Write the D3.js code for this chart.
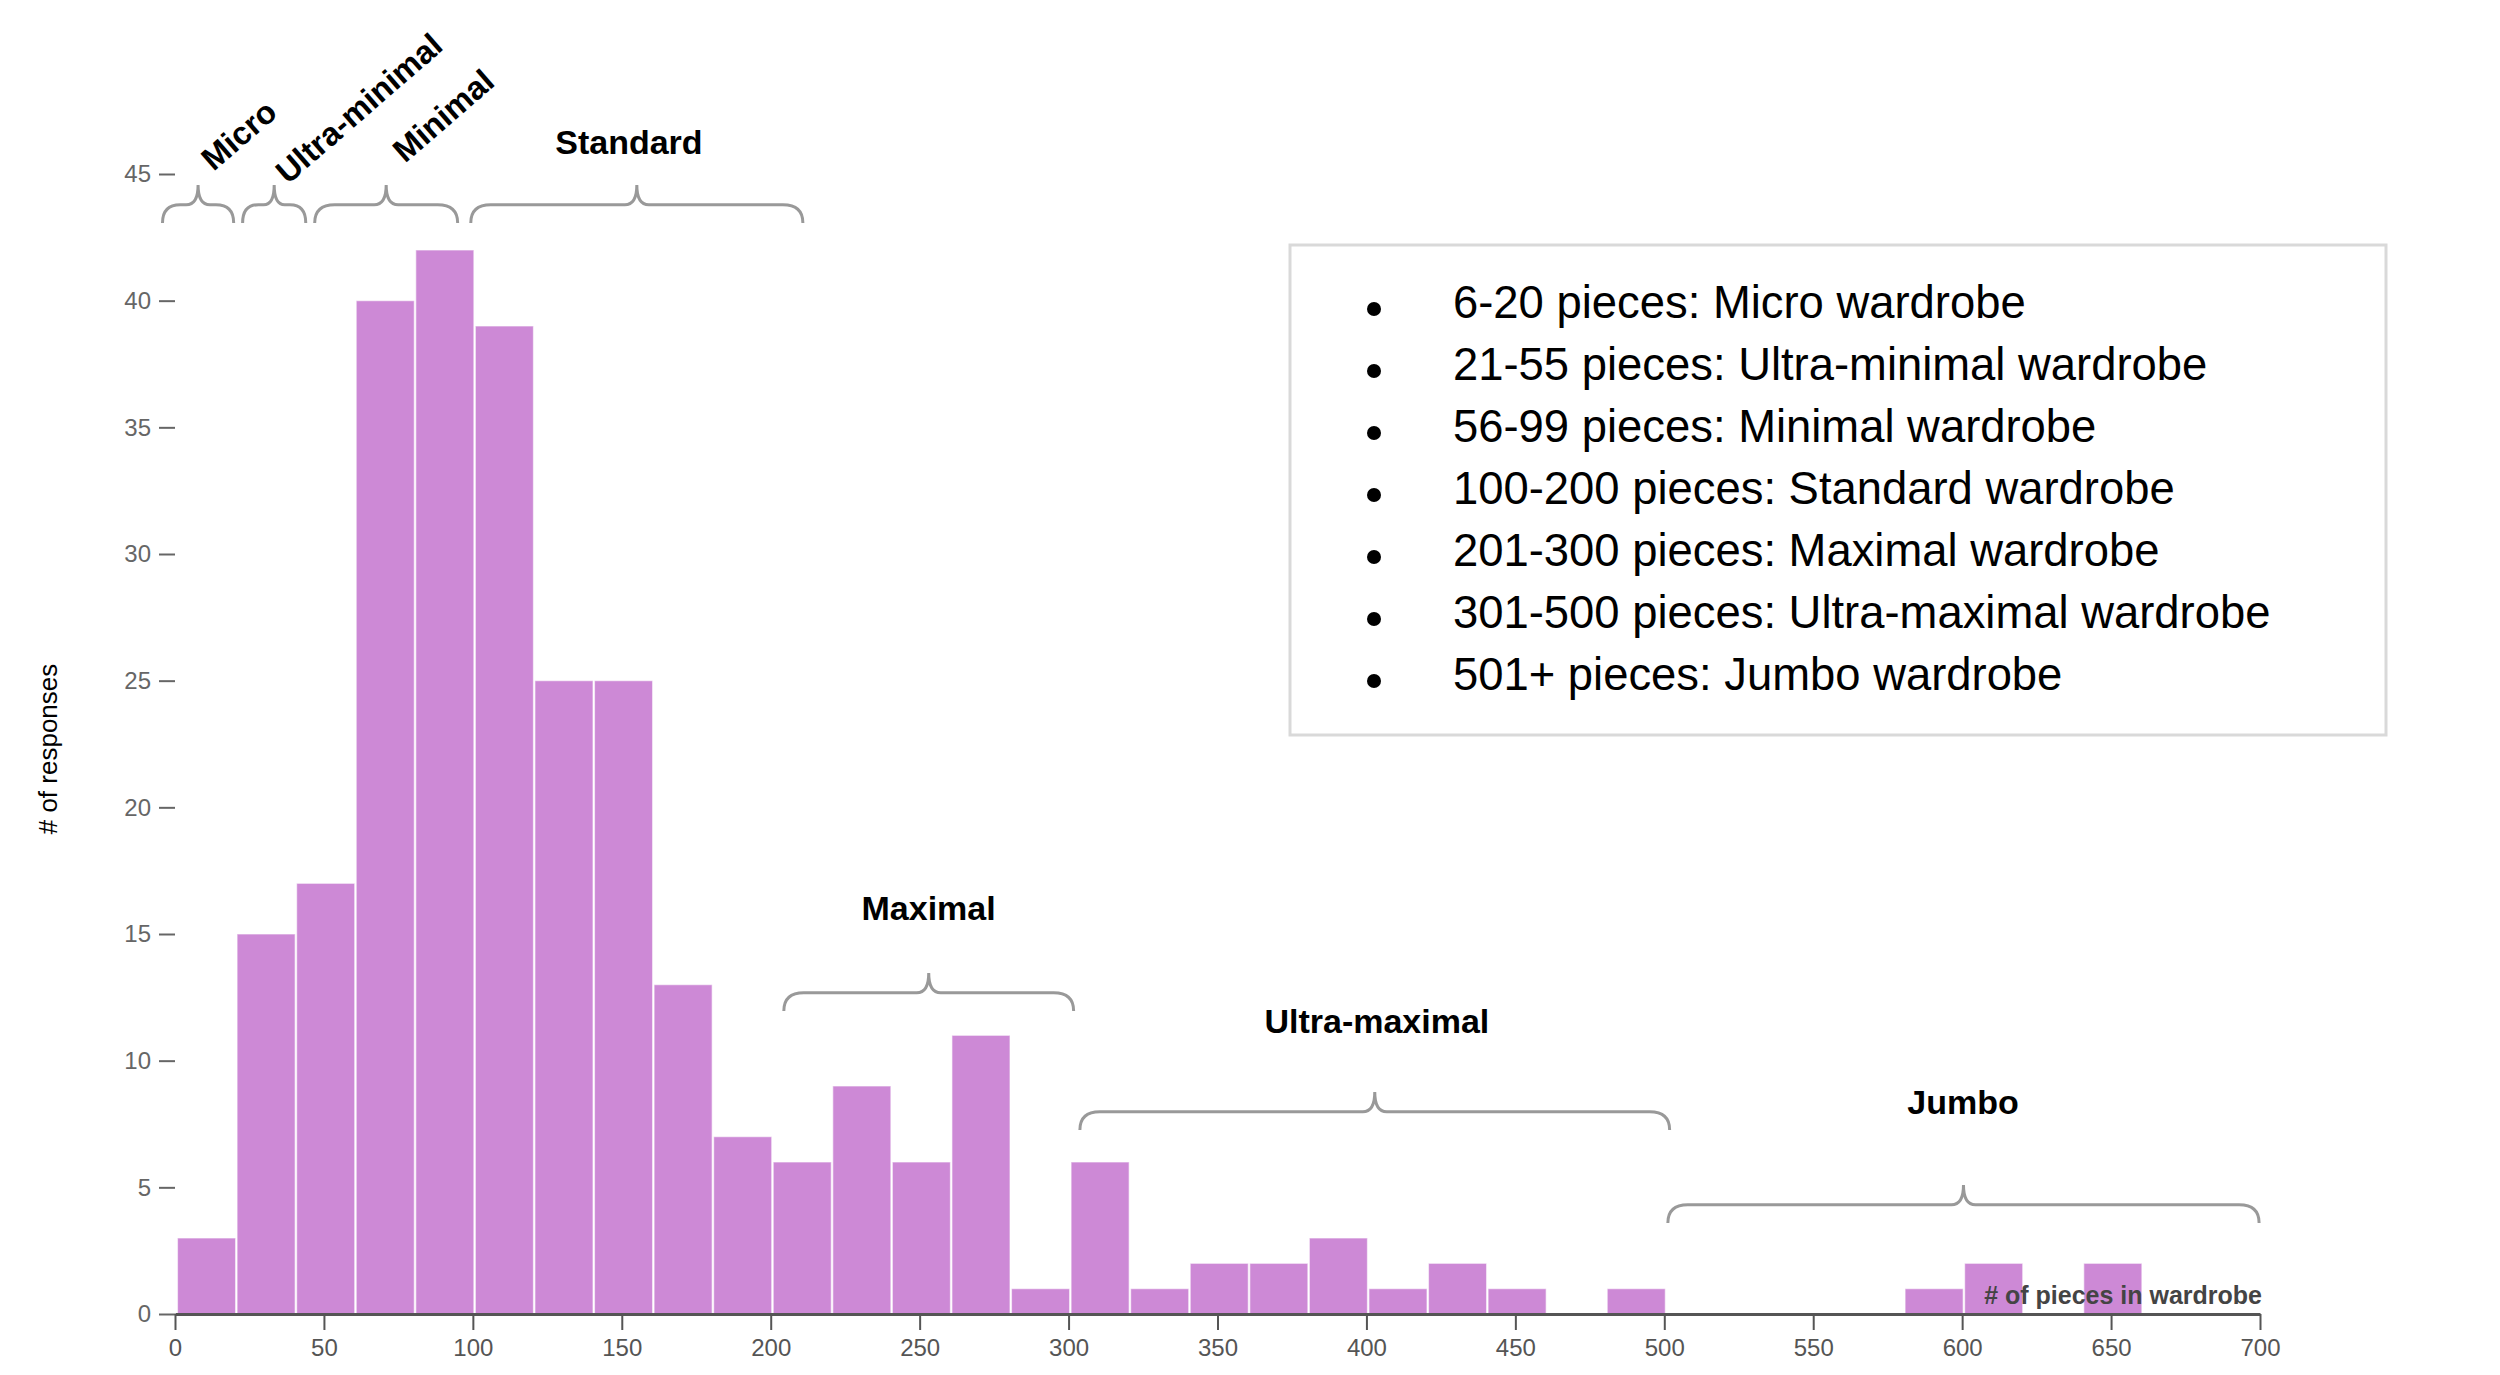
<!DOCTYPE html>
<html>
<head>
<meta charset="utf-8">
<script src="https://cdn.jsdelivr.net/npm/d3@7"></script>
<style>
  html, body { margin: 0; padding: 0; background: #fff; }
  svg { display: block; }
  text { font-family: "Liberation Sans", Arial, Helvetica, sans-serif; }
</style>
</head>
<body>
<svg id="chart" width="2500" height="1375"></svg>
<script>
// ---- data ----
const binStarts = [0,20,40,60,80,100,120,140,160,180,200,220,240,260,280,300,320,340,360,380,400,420,440,460,480,500,520,540,560,580,600,620,640,660,680];
const counts    = [3,15,17,40,42,39,25,25,13,7,6,9,6,11,1,6,1,2,2,3,1,2,1,0,1,0,0,0,0,1,2,0,2,0,0];
const binWidth = 20;

const xTicks = [0,50,100,150,200,250,300,350,400,450,500,550,600,650,700];
const yTicks = [0,5,10,15,20,25,30,35,40,45];

const categoryNames = ["Micro","Ultra-minimal","Minimal","Standard","Maximal","Ultra-maximal","Jumbo"];
const braceFrom  = [-4.2, 22.7, 46.9, 99.3, 204.4, 303.8, 501.2];
const braceTo    = [19.7, 43.9, 94.9, 210.8, 301.7, 501.8, 699.7];
const braceLevel = [43.07, 43.07, 43.07, 43.07, 11.96, 7.26, 3.59];
const labelX     = [12.96, 37.9, 77.2, 152.4, 253.0, 403.5, 600.3];
const labelY     = [45.08, 44.57, 45.4, 45.79, 15.55, 11.09, 7.9];
const labelAngle = [-41, -41, -41, 0, 0, 0, 0];

const legendItems = [
  "6-20 pieces: Micro wardrobe",
  "21-55 pieces: Ultra-minimal wardrobe",
  "56-99 pieces: Minimal wardrobe",
  "100-200 pieces: Standard wardrobe",
  "201-300 pieces: Maximal wardrobe",
  "301-500 pieces: Ultra-maximal wardrobe",
  "501+ pieces: Jumbo wardrobe"
];

const xLabel = "# of pieces in wardrobe";
const yLabel = "# of responses";

// ---- layout ----
const svg = d3.select("#chart");
const x = d3.scaleLinear().domain([0, 700]).range([175, 2260]);
const y = d3.scaleLinear().domain([0, 45]).range([1314, 174]);

// bars
const bars = binStarts.map((s, i) => ({start: s, count: counts[i]})).filter(d => d.count > 0);
svg.append("g").selectAll("rect").data(bars).join("rect")
  .attr("x", d => x(d.start) + 2.5)
  .attr("width", d => x(d.start + binWidth) - x(d.start) - 1.5)
  .attr("y", d => y(d.count))
  .attr("height", d => y(0) - y(d.count))
  .attr("fill", "#cd89d6")
  .attr("stroke", "#fff")
  .attr("stroke-opacity", 0.55)
  .attr("stroke-width", 1.2);

// y axis
const yAxis = svg.append("g")
  .attr("transform", `translate(${x(0)},0)`)
  .call(d3.axisLeft(y).tickValues(yTicks).tickSize(16).tickPadding(8).tickSizeOuter(0));
yAxis.select(".domain").remove();
yAxis.selectAll(".tick line").attr("stroke", "#666").attr("stroke-width", 2);
yAxis.selectAll(".tick text").attr("fill", "#666").style("font-size", "24px")
  .style("font-family", "'Liberation Sans', Arial, sans-serif");

// x axis
const xAxis = svg.append("g")
  .attr("transform", `translate(0,${y(0)})`)
  .call(d3.axisBottom(x).tickValues(xTicks).tickSize(16).tickPadding(9).tickSizeOuter(0));
xAxis.select(".domain").attr("stroke", "#555").attr("stroke-width", 3);
xAxis.selectAll(".tick line").attr("stroke", "#555").attr("stroke-width", 2);
xAxis.selectAll(".tick text").attr("fill", "#555").style("font-size", "24px")
  .style("font-family", "'Liberation Sans', Arial, sans-serif");

// axis labels
svg.append("text")
  .attr("x", x(700) + 2).attr("y", y(0) - 10)
  .attr("text-anchor", "end")
  .attr("fill", "#444")
  .style("font-size", "25px").style("font-weight", "bold")
  .text(xLabel);

svg.append("text")
  .attr("transform", `translate(57,749) rotate(-90)`)
  .attr("text-anchor", "middle")
  .attr("fill", "#000")
  .style("font-size", "26px")
  .text(yLabel);

// braces
function bracePath(x1, x2, yEnd, h) {
  const yH = yEnd - h * 0.48;
  const yTip = yEnd - h;
  const xm = (x1 + x2) / 2;
  const r = Math.min(20, (x2 - x1) / 4);
  const r2 = Math.min(12, (x2 - x1) / 6);
  return `M${x1},${yEnd} Q${x1},${yH} ${x1 + r},${yH} L${xm - r2},${yH} Q${xm},${yH} ${xm},${yTip} ` +
         `Q${xm},${yH} ${xm + r2},${yH} L${x2 - r},${yH} Q${x2},${yH} ${x2},${yEnd}`;
}
const ann = categoryNames.map((n, i) => ({
  name: n, from: braceFrom[i], to: braceTo[i], level: braceLevel[i],
  lx: labelX[i], ly: labelY[i], angle: labelAngle[i]
}));
svg.append("g").selectAll("path").data(ann).join("path")
  .attr("d", d => bracePath(x(d.from), x(d.to), y(d.level), 38))
  .attr("fill", "none")
  .attr("stroke", "#999")
  .attr("stroke-width", 3);

svg.append("g").selectAll("text").data(ann).join("text")
  .attr("transform", d => `translate(${x(d.lx)},${y(d.ly)}) rotate(${d.angle})`)
  .attr("text-anchor", d => d.angle === 0 ? "middle" : "start")
  .attr("fill", "#000")
  .style("font-size", d => d.angle === 0 ? "34px" : "32.5px")
  .style("font-weight", "bold")
  .text(d => d.name);

// legend box
const lg = svg.append("g");
lg.append("rect")
  .attr("x", 1290).attr("y", 245).attr("width", 1096).attr("height", 490)
  .attr("fill", "#fff").attr("stroke", "#d9d9d9").attr("stroke-width", 3);
const items = lg.selectAll("g.item").data(legendItems).join("g")
  .attr("class", "item")
  .attr("transform", (d, i) => `translate(0,${318 + i * 62})`);
items.append("circle").attr("cx", 1374).attr("cy", -9).attr("r", 7).attr("fill", "#000");
items.append("text").attr("x", 1453).attr("y", 0)
  .attr("fill", "#000").style("font-size", "45.4px").text(d => d);
</script>
</body>
</html>
